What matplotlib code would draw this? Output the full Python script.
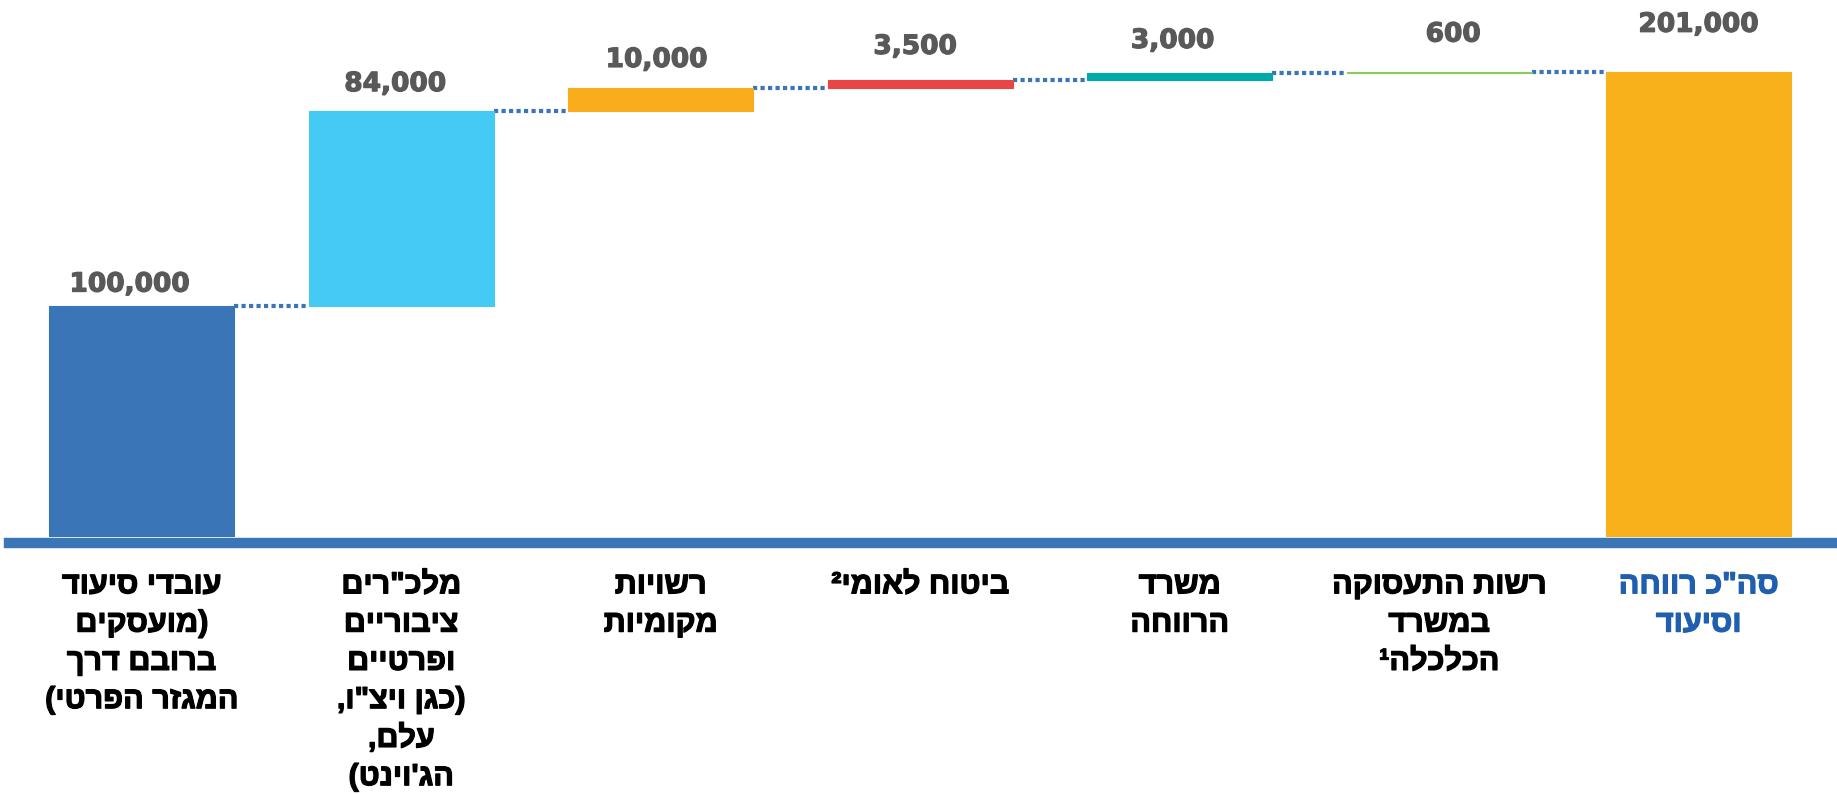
import matplotlib
matplotlib.use("Agg")
import matplotlib.pyplot as plt
import matplotlib.patheffects as pe
import numpy as np

# data (logical Hebrew order, as it would be typed)
categories = [
    'עובדי סיעוד\n(מועסקים\nברובם דרך\nהמגזר הפרטי)',
    'מלכ"רים\nציבוריים\nופרטיים\n(כגן ויצ"ו,\nעלם,\nהג\'וינט)',
    'רשויות\nמקומיות',
    'ביטוח לאומי²',
    'משרד\nהרווחה',
    'רשות התעסוקה\nבמשרד\nהכלכלה¹',
    'סה"כ רווחה\nוסיעוד',
]
steps = [100000, 84000, 10000, 3500, 3000, 600]
total = 201000

colors = ['#3A75B8', '#45C9F5', '#F9AC1C', '#E94545', '#00A9AA', '#8CCB55', '#F9B11B']
label_pad = [21, 27, 28, 33, 32, 37, 47]    # px above bar top, as in the original
label_dx = [-12, -6, -4, -5, -7, 14, 0]     # px, small horizontal shifts


def visual(s):
    # matplotlib has no bidi: reverse each line and mirror brackets
    mirror = {'(': ')', ')': '('}
    return '\n'.join(''.join(mirror.get(c, c) for c in reversed(line))
                     for line in s.split('\n'))


tops = np.cumsum(steps)
bottoms = tops - np.array(steps)
heights = list(steps) + [total]
bases = list(bottoms) + [0]
values = list(steps) + [total]
x = np.arange(len(categories))
width = 0.713

W, H = 1837, 794
fig = plt.figure(figsize=(W / 100, H / 100), dpi=100)
ax = fig.add_axes([9.4 / W, 257 / H, 1 - 9.4 / W, 1 - 257 / H])

ax.bar(x, heights, bottom=bases, width=width, color=colors,
       edgecolor=colors, linewidth=0.8, zorder=2)

# dotted connectors between bars
levels = list(tops)
for i in range(len(x) - 1):
    ax.plot([x[i] + width / 2, x[i + 1] - width / 2], [levels[i], levels[i]],
            color='#3A75B8', lw=3, linestyle=(0, (1, 0.8)), zorder=1)

# value labels
for i, v in enumerate(values):
    top = bases[i] + heights[i]
    ax.annotate(f'{v:,}', xy=(x[i], top),
                xytext=(label_dx[i] * 0.72, label_pad[i] * 0.72),
                textcoords='offset points', ha='center', va='center',
                fontsize=19, fontweight='bold', color='#595959',
                family=['DejaVu Sans'],
                path_effects=[pe.withStroke(linewidth=0.9, foreground='#595959')])

# category labels
for i, c in enumerate(categories):
    col = '#1F5FAE' if i == len(categories) - 1 else 'black'
    ax.annotate(visual(c), xy=(x[i], 0), xytext=(0, -24),
                textcoords='offset points', ha='center', va='top',
                multialignment='center', fontsize=22, fontweight='bold',
                color=col, linespacing=1.36,
                family=['Liberation Sans', 'DejaVu Sans'], annotation_clip=False,
                path_effects=[pe.withStroke(linewidth=0.9, foreground=col)])

# thick blue base line
ax.axhline(-2700, color='#3A75B8', lw=7.5, clip_on=False, zorder=3)

ax.set_xlim(-0.51, 6.533)
ax.set_ylim(0, 232000)
ax.axis('off')

fig.savefig('out.png', dpi=100)
